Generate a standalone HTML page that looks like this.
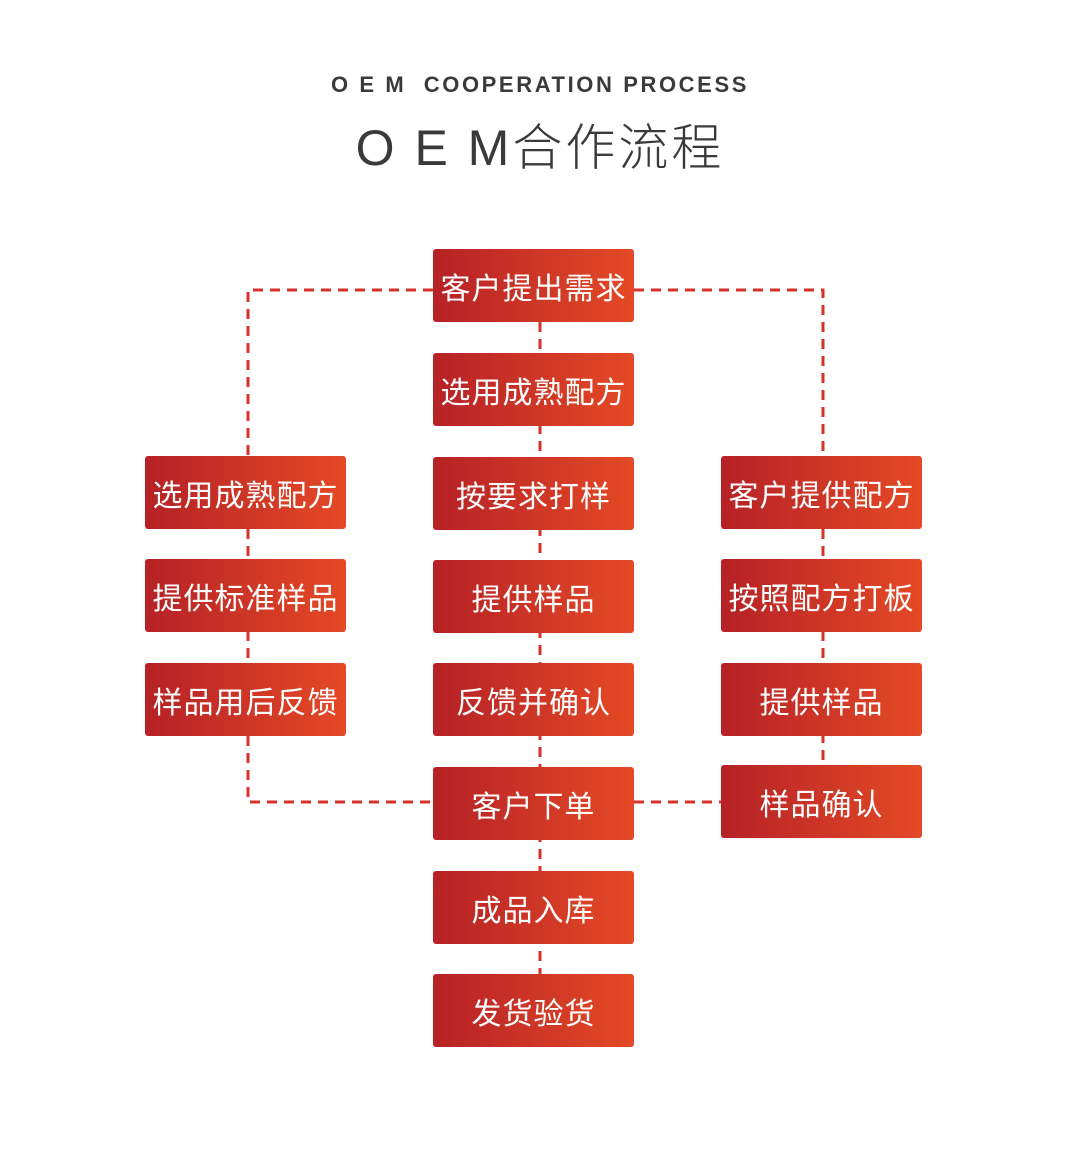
<!DOCTYPE html>
<html><head><meta charset="utf-8"><style>
body{margin:0;width:1080px;height:1156px;background:#fff;position:relative;overflow:hidden;font-family:"Liberation Sans","Noto Sans CJK SC",sans-serif}
.b{position:absolute;width:201px;height:73px;border-radius:3px;background:linear-gradient(90deg,#b62126,#e44a26);color:#fff;font-size:30px;font-weight:normal;display:flex;align-items:center;justify-content:center;letter-spacing:1px;box-sizing:border-box}
.t1{position:absolute;left:0;width:1080px;top:72px;text-align:center;font-size:22px;font-weight:bold;color:#3a3a3a;letter-spacing:2.6px}
.t2{position:absolute;left:0;width:1080px;top:108px;text-align:center;font-size:50px;color:#3a3a3a;letter-spacing:3px;font-weight:300}
</style></head><body>
<div class="t1">O E M&nbsp; COOPERATION PROCESS</div>
<div class="t2">O E M合作流程</div>
<svg style="position:absolute;left:0;top:0" width="1080" height="1156">
<g stroke="#d6322a" stroke-width="3" stroke-dasharray="10,7" fill="none">
<path d="M433 290H248V456"/>
<path d="M634 290H823V456"/>
<path d="M540 322V974"/>
<path d="M248 529V663"/>
<path d="M823 529V765"/>
<path d="M248 736V802H433"/>
<path d="M634 802H721"/>
</g></svg>
<div class="b" style="left:433px;top:249px">客户提出需求</div>
<div class="b" style="left:433px;top:353px">选用成熟配方</div>
<div class="b" style="left:433px;top:457px">按要求打样</div>
<div class="b" style="left:433px;top:560px">提供样品</div>
<div class="b" style="left:433px;top:663px">反馈并确认</div>
<div class="b" style="left:433px;top:767px">客户下单</div>
<div class="b" style="left:433px;top:871px">成品入库</div>
<div class="b" style="left:433px;top:974px">发货验货</div>
<div class="b" style="left:145px;top:456px">选用成熟配方</div>
<div class="b" style="left:145px;top:559px">提供标准样品</div>
<div class="b" style="left:145px;top:663px">样品用后反馈</div>
<div class="b" style="left:721px;top:456px">客户提供配方</div>
<div class="b" style="left:721px;top:559px">按照配方打板</div>
<div class="b" style="left:721px;top:663px">提供样品</div>
<div class="b" style="left:721px;top:765px">样品确认</div>
</body></html>
